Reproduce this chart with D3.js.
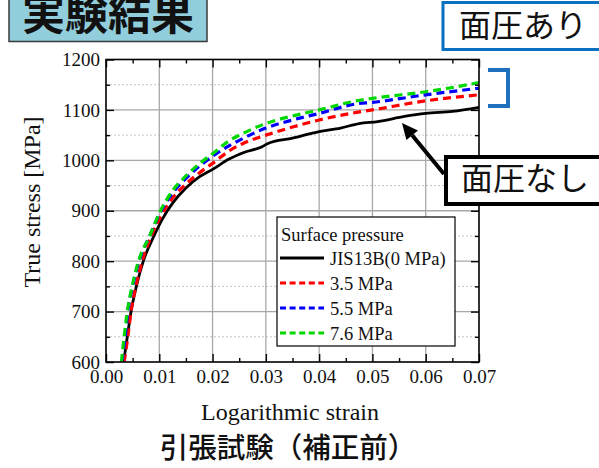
<!DOCTYPE html>
<html><head><meta charset="utf-8">
<script src="https://cdn.jsdelivr.net/npm/d3@7"></script>
<style>
html,body{margin:0;padding:0;background:#fff;}
svg{display:block;}
.serif{font-family:'Liberation Serif','Times New Roman',serif;}
.cjk{font-family:'Noto Sans CJK JP','Noto Sans CJK SC',sans-serif;}
</style></head>
<body>
<svg id="chart" width="599" height="468"></svg>
<script>
// ---- data ----
const seriesNames = ["JIS13B(0 MPa)", "3.5 MPa", "5.5 MPa", "7.6 MPa"];
const seriesColors = ["#000000", "#ff0000", "#0000ff", "#00d800"];
const strainBlack = [0.0033,0.0040,0.0047,0.0057,0.0070,0.0090,0.0105,0.0125,0.0150,0.0175,0.0200,0.0230,0.0260,0.0293,0.0303,0.0350,0.0400,0.0440,0.0475,0.0510,0.0560,0.0600,0.0650,0.0700];
const stressBlack = [600,650,700,750,800,850,882,915,945,967,982,1002,1016,1027,1033,1044,1057,1064,1073,1077,1087,1093,1097,1105];
const strainRed = [0.0034,0.0041,0.0047,0.0056,0.0068,0.0085,0.0105,0.0125,0.0150,0.0175,0.0200,0.0233,0.0260,0.0300,0.0350,0.0400,0.0470,0.0500,0.0600,0.0700];
const stressRed = [600,650,700,750,800,850,893,925,953,975,994,1020,1035,1050,1066,1080,1095,1100,1118,1130];
const strainBlue = [0.0030,0.0036,0.0041,0.0050,0.0062,0.0082,0.0100,0.0125,0.0150,0.0175,0.0200,0.0233,0.0260,0.0300,0.0350,0.0400,0.0470,0.0500,0.0600,0.0700];
const stressBlue = [600,650,700,750,800,850,893,935,964,988,1008,1030,1045,1064,1080,1093,1112,1115,1130,1143];
const strainGreen = [0.0029,0.0034,0.0040,0.0049,0.0061,0.0082,0.0100,0.0125,0.0150,0.0175,0.0200,0.0233,0.0260,0.0300,0.0350,0.0400,0.0470,0.0500,0.0600,0.0700];
const stressGreen = [600,650,700,750,800,850,895,940,969,993,1013,1040,1055,1073,1088,1100,1118,1123,1136,1154];
const xTicks = [0,0.01,0.02,0.03,0.04,0.05,0.06,0.07];
const xTickLabels = ["0.00","0.01","0.02","0.03","0.04","0.05","0.06","0.07"];
const yTicks = [600,700,800,900,1000,1100,1200];
const yTickLabels = ["600","700","800","900","1000","1100","1200"];
const yMinorTicks = [650,750,850,950,1050,1150];
const xMinorTicks = [0.005,0.015,0.025,0.035,0.045,0.055,0.065];

const series = [
  {name: seriesNames[0], color: seriesColors[0], xs: strainBlack, ys: stressBlack, dashed: false},
  {name: seriesNames[1], color: seriesColors[1], xs: strainRed, ys: stressRed, dashed: true},
  {name: seriesNames[2], color: seriesColors[2], xs: strainBlue, ys: stressBlue, dashed: true},
  {name: seriesNames[3], color: seriesColors[3], xs: strainGreen, ys: stressGreen, dashed: true}
];

const svg = d3.select("#chart");
const L = 106, R = 479, T = 59.5, B = 362;
const x = d3.scaleLinear().domain([0, 0.07]).range([L, R]);
const y = d3.scaleLinear().domain([600, 1200]).range([B, T]);

// minor dotted horizontal grid
svg.append("g").selectAll("line").data(yMinorTicks).join("line")
  .attr("x1", L).attr("x2", R).attr("y1", d => y(d)).attr("y2", d => y(d))
  .attr("stroke", "#c4c4c4").attr("stroke-width", 1).attr("stroke-dasharray", "2,2");
// major grid
svg.append("g").selectAll("line").data(yTicks.slice(1, -1)).join("line")
  .attr("x1", L).attr("x2", R).attr("y1", d => y(d)).attr("y2", d => y(d))
  .attr("stroke", "#a8a8a8").attr("stroke-width", 1.3);
svg.append("g").selectAll("line").data(xTicks.slice(1, -1)).join("line")
  .attr("x1", d => x(d)).attr("x2", d => x(d)).attr("y1", T).attr("y2", B)
  .attr("stroke", "#a8a8a8").attr("stroke-width", 1.3);

// curves
svg.append("clipPath").attr("id", "clip").append("rect")
  .attr("x", L).attr("y", T).attr("width", R - L).attr("height", B - T);
const line = d3.line().x(d => x(d[0])).y(d => y(d[1])).curve(d3.curveMonotoneX);
const gLines = svg.append("g").attr("clip-path", "url(#clip)");
series.forEach(s => {
  const pts = s.xs.map((v, i) => [v, s.ys[i]]);
  gLines.append("path").datum(pts).attr("d", line)
    .attr("fill", "none").attr("stroke", s.color)
    .attr("stroke-width", s.dashed ? 3.2 : 2.8)
    .attr("stroke-dasharray", s.dashed ? "8,5" : null)
    .attr("stroke-linejoin", "round");
});

// axes
function styleAxis(g) {
  g.attr("font-family", null).attr("font-size", null);
  g.select(".domain").remove();
  g.selectAll(".tick line").attr("stroke", "#000").attr("stroke-width", 1.4);
  g.selectAll("text").attr("class", "serif").style("font-size", "19px").attr("fill", "#111");
}
svg.append("g").attr("transform", `translate(0,${B})`)
  .call(d3.axisBottom(x).tickValues(xTicks).tickFormat((d, i) => xTickLabels[i]).tickSize(-8).tickPadding(8))
  .call(styleAxis);
svg.append("g").attr("transform", `translate(0,${B})`)
  .call(d3.axisBottom(x).tickValues(xMinorTicks).tickFormat("").tickSize(-4)).call(styleAxis);
svg.append("g").attr("transform", `translate(0,${T})`)
  .call(d3.axisTop(x).tickValues(xTicks).tickFormat("").tickSize(-8)).call(styleAxis);
svg.append("g").attr("transform", `translate(0,${T})`)
  .call(d3.axisTop(x).tickValues(xMinorTicks).tickFormat("").tickSize(-4)).call(styleAxis);
svg.append("g").attr("transform", `translate(${L},0)`)
  .call(d3.axisLeft(y).tickValues(yTicks).tickFormat((d, i) => yTickLabels[i]).tickSize(-8).tickPadding(6)).call(styleAxis);
svg.append("g").attr("transform", `translate(${L},0)`)
  .call(d3.axisLeft(y).tickValues(yMinorTicks).tickFormat("").tickSize(-4)).call(styleAxis);
svg.append("g").attr("transform", `translate(${R},0)`)
  .call(d3.axisRight(y).tickValues(yTicks).tickFormat("").tickSize(-8)).call(styleAxis);
svg.append("g").attr("transform", `translate(${R},0)`)
  .call(d3.axisRight(y).tickValues(yMinorTicks).tickFormat("").tickSize(-4)).call(styleAxis);
// frame
svg.append("rect").attr("x", L).attr("y", T).attr("width", R - L).attr("height", B - T)
  .attr("fill", "none").attr("stroke", "#000").attr("stroke-width", 1.6);

// axis titles
svg.append("text").attr("class", "serif").attr("x", 290).attr("y", 420).attr("text-anchor", "middle")
  .style("font-size", "24px").attr("fill", "#111").text("Logarithmic strain");
svg.append("text").attr("class", "serif").attr("transform", "translate(40,202) rotate(-90)").attr("text-anchor", "middle")
  .style("font-size", "24px").attr("fill", "#111").text("True stress [MPa]");

// legend
const lg = svg.append("g");
lg.append("rect").attr("x", 277).attr("y", 217).attr("width", 178).attr("height", 129)
  .attr("fill", "#fff").attr("stroke", "#000").attr("stroke-width", 1.2);
lg.append("text").attr("class", "serif").attr("x", 281).attr("y", 241).style("font-size", "18.5px")
  .attr("fill", "#111").text("Surface pressure");
series.forEach((s, i) => {
  const cy = 258 + i * 25;
  lg.append("line").attr("x1", 280).attr("x2", 324).attr("y1", cy).attr("y2", cy)
    .attr("stroke", s.color).attr("stroke-width", s.dashed ? 3 : 2.8)
    .attr("stroke-dasharray", s.dashed ? "6,3.6" : null);
  lg.append("text").attr("class", "serif").attr("x", 330).attr("y", cy + 6.5).style("font-size", "18.5px")
    .attr("fill", "#111").text(s.name);
});

// title box
svg.append("rect").attr("x", 9).attr("y", -3).attr("width", 198).attr("height", 44.5)
  .attr("fill", "#92cddc").attr("stroke", "#3a3a3a").attr("stroke-width", 1.5);
svg.append("text").attr("class", "cjk").attr("x", 108).attr("y", 30).attr("text-anchor", "middle")
  .style("font-weight", 700).style("font-size", "43px").attr("fill", "#111").text("実験結果");

// 面圧あり box
svg.append("rect").attr("x", 443).attr("y", 2.5).attr("width", 170).attr("height", 47)
  .attr("fill", "#fff").attr("stroke", "#0a70c0").attr("stroke-width", 3);
svg.append("text").attr("class", "cjk").attr("x", 459).attr("y", 37).style("font-size", "32px")
  .attr("fill", "#111").text("面圧あり");
// bracket
svg.append("path").attr("d", "M488,70 H508 V106 H488").attr("fill", "none")
  .attr("stroke", "#1e72bd").attr("stroke-width", 4);

// 面圧なし box
svg.append("rect").attr("x", 446).attr("y", 157).attr("width", 170).attr("height", 47)
  .attr("fill", "#fff").attr("stroke", "#000").attr("stroke-width", 4);
svg.append("text").attr("class", "cjk").attr("x", 461).attr("y", 190).style("font-size", "32px")
  .attr("fill", "#111").text("面圧なし");
// arrow
const ax0 = 444, ay0 = 174, ax1 = 402, ay1 = 123;
const ang = Math.atan2(ay1 - ay0, ax1 - ax0);
const hl = 16, hw = 7.5;
const bx = ax1 - hl * Math.cos(ang), by = ay1 - hl * Math.sin(ang);
svg.append("line").attr("x1", ax0).attr("y1", ay0).attr("x2", bx).attr("y2", by)
  .attr("stroke", "#000").attr("stroke-width", 4);
svg.append("path").attr("d", `M${ax1},${ay1} L${bx + hw * Math.sin(ang)},${by - hw * Math.cos(ang)} L${bx - hw * Math.sin(ang)},${by + hw * Math.cos(ang)} Z`)
  .attr("fill", "#000");

// caption
svg.append("text").attr("class", "cjk").attr("x", 288).attr("y", 458).attr("text-anchor", "middle")
  .style("font-weight", 500).style("font-size", "28.5px").attr("fill", "#111").text("引張試験（補正前）");
</script>
</body></html>
